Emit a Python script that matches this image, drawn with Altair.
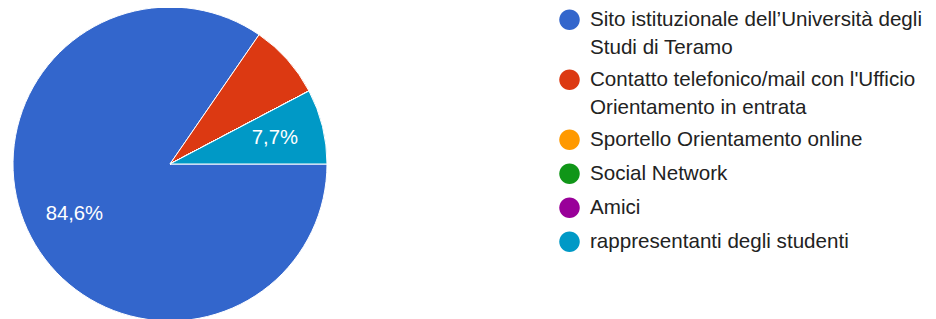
import math
import altair as alt
import pandas as pd

categories = [
    "Sito istituzionale dell\u2019Università degli\nStudi di Teramo",
    "Contatto telefonico/mail con l'Ufficio\nOrientamento in entrata",
    "Sportello Orientamento online",
    "Social Network",
    "Amici",
    "rappresentanti degli studenti",
]
shares = [84.6, 7.7, 0.0, 0.0, 0.0, 7.7]
slice_labels = ["84,6%", "", "", "", "", "7,7%"]
colors = ["#3366cc", "#dc3912", "#ff9900", "#109618", "#990099", "#0099c6"]

df = pd.DataFrame({
    "cat": categories,
    "share": shares,
    "lbl": slice_labels,
    "idx": list(range(len(categories))),
})

FONT = "Liberation Sans, Arial, sans-serif"

theta_scale = alt.Scale(range=[math.pi / 2, math.pi / 2 + 2 * math.pi])

# circle shifted slightly upward so that it lines up with the first text line;
# the trailing move-to only extends the symbol's layout box a little downward
symbol_path = "M-1,-0.56A1,1,0,1,1,1,-0.56A1,1,0,1,1,-1,-0.56ZM0,0.68"

base = alt.Chart(df).encode(
    theta=alt.Theta("share:Q", stack=True, scale=theta_scale),
    order=alt.Order("idx:Q", sort="ascending"),
)

arcs = base.mark_arc(radius=157, stroke="white", strokeWidth=1).encode(
    color=alt.Color(
        "cat:N",
        sort=categories,
        scale=alt.Scale(domain=categories, range=colors),
        legend=alt.Legend(
            orient="none",
            legendX=551,
            legendY=7,
            title=None,
            padding=0,
            symbolType=symbol_path,
            symbolSize=420,
            symbolStrokeWidth=0,
            symbolOpacity=1,
            labelFont=FONT,
            labelFontSize=20.6,
            labelColor="#222222",
            labelExpr="split(datum.label, '\\n')",
            labelBaseline="alphabetic",
            labelLimit=0,
            labelOffset=10,
            rowPadding=10,
        ),
    ),
    tooltip=alt.value(None),
)

texts = base.mark_text(radius=108, font=FONT, fontSize=20.3, color="white").encode(
    text="lbl:N"
)

chart = (
    alt.layer(arcs, texts)
    .properties(
        width=324,
        height=312,
        autosize=alt.AutoSizeParams(type="none"),
        padding={"left": 0, "top": 0, "right": 596, "bottom": 0},
    )
    .configure(style={"guide-label": {"lineHeight": 28}})
    .configure_view(stroke=None)
)

chart.save("out.html", embed_options={"renderer": "svg", "actions": False})
